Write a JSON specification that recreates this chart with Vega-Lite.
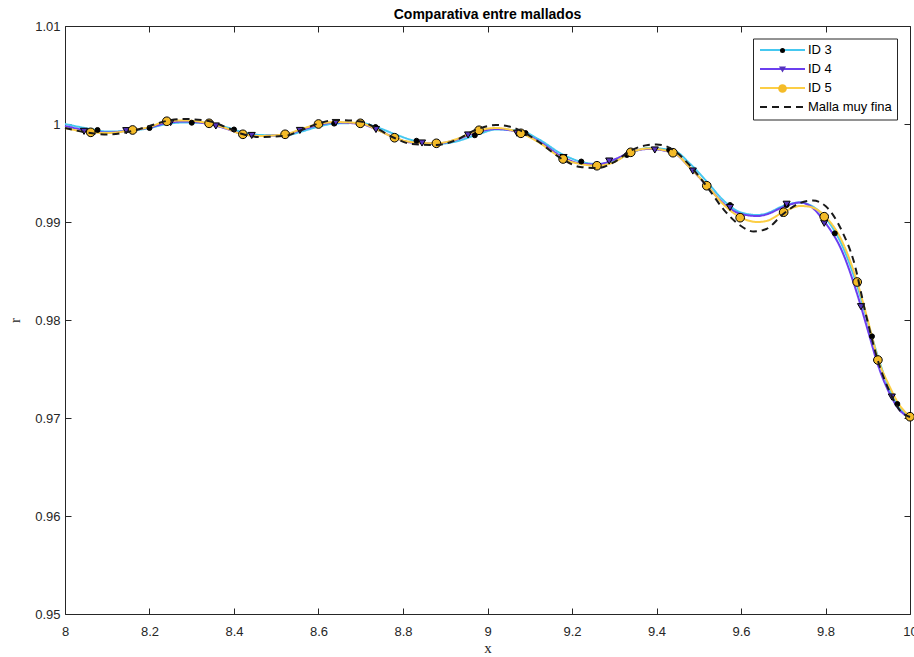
{
  "$schema": "https://vega.github.io/schema/vega-lite/v6.json",
  "width": 845,
  "height": 588,
  "autosize": {"type": "none"},
  "padding": {"left": 65, "top": 26, "right": 4, "bottom": 43},
  "background": "white",
  "title": {"text": "Comparativa entre mallados", "font": "Liberation Sans", "fontSize": 14, "fontWeight": "bold", "color": "#000000", "anchor": "middle", "offset": -2},
  "config": {
    "view": {"stroke": null},
    "axis": {"grid": false, "domainColor": "#262626", "domainWidth": 1, "tickColor": "#262626", "tickWidth": 1, "tickSize": -6, "labelColor": "#262626", "labelFont": "Liberation Sans", "labelFontSize": 13, "labelFlush": false, "labelOverlap": false}
  },
  "datasets": {
    "lines": [
      {"s": "ID 3", "x": 8.00, "y": 1.0},
      {"s": "ID 3", "x": 8.06, "y": 0.99949},
      {"s": "ID 3", "x": 8.10, "y": 0.99923},
      {"s": "ID 3", "x": 8.16, "y": 0.99934},
      {"s": "ID 3", "x": 8.20, "y": 0.99959},
      {"s": "ID 3", "x": 8.24, "y": 1.0},
      {"s": "ID 3", "x": 8.28, "y": 1.00015},
      {"s": "ID 3", "x": 8.34, "y": 1.0001},
      {"s": "ID 3", "x": 8.38, "y": 0.99969},
      {"s": "ID 3", "x": 8.42, "y": 0.99918},
      {"s": "ID 3", "x": 8.46, "y": 0.99888},
      {"s": "ID 3", "x": 8.52, "y": 0.99883},
      {"s": "ID 3", "x": 8.56, "y": 0.99923},
      {"s": "ID 3", "x": 8.60, "y": 0.99974},
      {"s": "ID 3", "x": 8.64, "y": 1.00005},
      {"s": "ID 3", "x": 8.70, "y": 1.0001},
      {"s": "ID 3", "x": 8.74, "y": 0.99964},
      {"s": "ID 3", "x": 8.78, "y": 0.99898},
      {"s": "ID 3", "x": 8.82, "y": 0.99837},
      {"s": "ID 3", "x": 8.88, "y": 0.99796},
      {"s": "ID 3", "x": 8.92, "y": 0.99816},
      {"s": "ID 3", "x": 8.98, "y": 0.99898},
      {"s": "ID 3", "x": 9.02, "y": 0.99944},
      {"s": "ID 3", "x": 9.08, "y": 0.99929},
      {"s": "ID 3", "x": 9.12, "y": 0.99847},
      {"s": "ID 3", "x": 9.18, "y": 0.99684},
      {"s": "ID 3", "x": 9.22, "y": 0.99617},
      {"s": "ID 3", "x": 9.26, "y": 0.99592},
      {"s": "ID 3", "x": 9.30, "y": 0.99622},
      {"s": "ID 3", "x": 9.34, "y": 0.99704},
      {"s": "ID 3", "x": 9.38, "y": 0.99755},
      {"s": "ID 3", "x": 9.44, "y": 0.9973},
      {"s": "ID 3", "x": 9.48, "y": 0.99592},
      {"s": "ID 3", "x": 9.52, "y": 0.99408},
      {"s": "ID 3", "x": 9.56, "y": 0.99214},
      {"s": "ID 3", "x": 9.60, "y": 0.99097},
      {"s": "ID 3", "x": 9.64, "y": 0.99071},
      {"s": "ID 3", "x": 9.66, "y": 0.99087},
      {"s": "ID 3", "x": 9.70, "y": 0.99163},
      {"s": "ID 3", "x": 9.74, "y": 0.99199},
      {"s": "ID 3", "x": 9.76, "y": 0.99179},
      {"s": "ID 3", "x": 9.80, "y": 0.99041},
      {"s": "ID 3", "x": 9.84, "y": 0.98755},
      {"s": "ID 3", "x": 9.875, "y": 0.98347},
      {"s": "ID 3", "x": 9.90, "y": 0.9798},
      {"s": "ID 3", "x": 9.925, "y": 0.97612},
      {"s": "ID 3", "x": 9.95, "y": 0.97306},
      {"s": "ID 3", "x": 9.975, "y": 0.97102},
      {"s": "ID 3", "x": 10.0, "y": 0.9702},

      {"s": "ID 4", "x": 8.00, "y": 0.9998},
      {"s": "ID 4", "x": 8.06, "y": 0.99929},
      {"s": "ID 4", "x": 8.10, "y": 0.99913},
      {"s": "ID 4", "x": 8.16, "y": 0.99939},
      {"s": "ID 4", "x": 8.20, "y": 0.99964},
      {"s": "ID 4", "x": 8.24, "y": 1.0001},
      {"s": "ID 4", "x": 8.28, "y": 1.00026},
      {"s": "ID 4", "x": 8.34, "y": 1.0},
      {"s": "ID 4", "x": 8.38, "y": 0.99954},
      {"s": "ID 4", "x": 8.42, "y": 0.99898},
      {"s": "ID 4", "x": 8.46, "y": 0.99878},
      {"s": "ID 4", "x": 8.52, "y": 0.99893},
      {"s": "ID 4", "x": 8.56, "y": 0.99939},
      {"s": "ID 4", "x": 8.60, "y": 0.9999},
      {"s": "ID 4", "x": 8.64, "y": 1.00015},
      {"s": "ID 4", "x": 8.70, "y": 1.0},
      {"s": "ID 4", "x": 8.74, "y": 0.99939},
      {"s": "ID 4", "x": 8.78, "y": 0.99862},
      {"s": "ID 4", "x": 8.82, "y": 0.99811},
      {"s": "ID 4", "x": 8.88, "y": 0.99801},
      {"s": "ID 4", "x": 8.92, "y": 0.99832},
      {"s": "ID 4", "x": 8.98, "y": 0.99923},
      {"s": "ID 4", "x": 9.02, "y": 0.99949},
      {"s": "ID 4", "x": 9.08, "y": 0.99908},
      {"s": "ID 4", "x": 9.12, "y": 0.99827},
      {"s": "ID 4", "x": 9.18, "y": 0.99658},
      {"s": "ID 4", "x": 9.22, "y": 0.99597},
      {"s": "ID 4", "x": 9.26, "y": 0.99587},
      {"s": "ID 4", "x": 9.30, "y": 0.99638},
      {"s": "ID 4", "x": 9.34, "y": 0.99714},
      {"s": "ID 4", "x": 9.38, "y": 0.99745},
      {"s": "ID 4", "x": 9.44, "y": 0.99704},
      {"s": "ID 4", "x": 9.48, "y": 0.99551},
      {"s": "ID 4", "x": 9.52, "y": 0.99367},
      {"s": "ID 4", "x": 9.56, "y": 0.99184},
      {"s": "ID 4", "x": 9.60, "y": 0.99082},
      {"s": "ID 4", "x": 9.64, "y": 0.99061},
      {"s": "ID 4", "x": 9.66, "y": 0.99077},
      {"s": "ID 4", "x": 9.70, "y": 0.99153},
      {"s": "ID 4", "x": 9.74, "y": 0.99199},
      {"s": "ID 4", "x": 9.76, "y": 0.99173},
      {"s": "ID 4", "x": 9.80, "y": 0.9899},
      {"s": "ID 4", "x": 9.84, "y": 0.98694},
      {"s": "ID 4", "x": 9.875, "y": 0.98265},
      {"s": "ID 4", "x": 9.90, "y": 0.97898},
      {"s": "ID 4", "x": 9.925, "y": 0.9753},
      {"s": "ID 4", "x": 9.95, "y": 0.97265},
      {"s": "ID 4", "x": 9.975, "y": 0.97082},
      {"s": "ID 4", "x": 10.0, "y": 0.9701},

      {"s": "ID 5", "x": 8.00, "y": 0.99959},
      {"s": "ID 5", "x": 8.06, "y": 0.99915},
      {"s": "ID 5", "x": 8.10, "y": 0.99908},
      {"s": "ID 5", "x": 8.16, "y": 0.99939},
      {"s": "ID 5", "x": 8.20, "y": 0.99969},
      {"s": "ID 5", "x": 8.24, "y": 1.00028},
      {"s": "ID 5", "x": 8.28, "y": 1.00036},
      {"s": "ID 5", "x": 8.34, "y": 1.00007},
      {"s": "ID 5", "x": 8.38, "y": 0.99959},
      {"s": "ID 5", "x": 8.42, "y": 0.99895},
      {"s": "ID 5", "x": 8.46, "y": 0.99878},
      {"s": "ID 5", "x": 8.52, "y": 0.99895},
      {"s": "ID 5", "x": 8.56, "y": 0.99949},
      {"s": "ID 5", "x": 8.60, "y": 1.0},
      {"s": "ID 5", "x": 8.64, "y": 1.0002},
      {"s": "ID 5", "x": 8.70, "y": 1.00007},
      {"s": "ID 5", "x": 8.74, "y": 0.99939},
      {"s": "ID 5", "x": 8.78, "y": 0.9986},
      {"s": "ID 5", "x": 8.82, "y": 0.99816},
      {"s": "ID 5", "x": 8.88, "y": 0.99803},
      {"s": "ID 5", "x": 8.92, "y": 0.99837},
      {"s": "ID 5", "x": 8.98, "y": 0.99936},
      {"s": "ID 5", "x": 9.02, "y": 0.99959},
      {"s": "ID 5", "x": 9.08, "y": 0.99905},
      {"s": "ID 5", "x": 9.12, "y": 0.99816},
      {"s": "ID 5", "x": 9.18, "y": 0.99643},
      {"s": "ID 5", "x": 9.22, "y": 0.99592},
      {"s": "ID 5", "x": 9.26, "y": 0.99574},
      {"s": "ID 5", "x": 9.30, "y": 0.99612},
      {"s": "ID 5", "x": 9.34, "y": 0.99711},
      {"s": "ID 5", "x": 9.38, "y": 0.9975},
      {"s": "ID 5", "x": 9.44, "y": 0.99707},
      {"s": "ID 5", "x": 9.48, "y": 0.99551},
      {"s": "ID 5", "x": 9.52, "y": 0.9937},
      {"s": "ID 5", "x": 9.56, "y": 0.99173},
      {"s": "ID 5", "x": 9.60, "y": 0.99044},
      {"s": "ID 5", "x": 9.64, "y": 0.99},
      {"s": "ID 5", "x": 9.66, "y": 0.9901},
      {"s": "ID 5", "x": 9.70, "y": 0.991},
      {"s": "ID 5", "x": 9.74, "y": 0.99163},
      {"s": "ID 5", "x": 9.76, "y": 0.99158},
      {"s": "ID 5", "x": 9.80, "y": 0.99054},
      {"s": "ID 5", "x": 9.84, "y": 0.98796},
      {"s": "ID 5", "x": 9.875, "y": 0.98388},
      {"s": "ID 5", "x": 9.90, "y": 0.98},
      {"s": "ID 5", "x": 9.925, "y": 0.97592},
      {"s": "ID 5", "x": 9.95, "y": 0.97337},
      {"s": "ID 5", "x": 9.975, "y": 0.97133},
      {"s": "ID 5", "x": 10.0, "y": 0.97013},

      {"s": "Malla muy fina", "x": 8.00, "y": 0.99959},
      {"s": "Malla muy fina", "x": 8.06, "y": 0.99908},
      {"s": "Malla muy fina", "x": 8.10, "y": 0.99893},
      {"s": "Malla muy fina", "x": 8.16, "y": 0.99929},
      {"s": "Malla muy fina", "x": 8.20, "y": 0.9998},
      {"s": "Malla muy fina", "x": 8.24, "y": 1.00031},
      {"s": "Malla muy fina", "x": 8.28, "y": 1.00051},
      {"s": "Malla muy fina", "x": 8.34, "y": 1.00031},
      {"s": "Malla muy fina", "x": 8.38, "y": 0.99969},
      {"s": "Malla muy fina", "x": 8.42, "y": 0.99898},
      {"s": "Malla muy fina", "x": 8.46, "y": 0.99867},
      {"s": "Malla muy fina", "x": 8.52, "y": 0.99878},
      {"s": "Malla muy fina", "x": 8.56, "y": 0.99939},
      {"s": "Malla muy fina", "x": 8.60, "y": 1.00005},
      {"s": "Malla muy fina", "x": 8.64, "y": 1.00041},
      {"s": "Malla muy fina", "x": 8.70, "y": 1.00026},
      {"s": "Malla muy fina", "x": 8.74, "y": 0.99949},
      {"s": "Malla muy fina", "x": 8.78, "y": 0.99857},
      {"s": "Malla muy fina", "x": 8.82, "y": 0.99796},
      {"s": "Malla muy fina", "x": 8.88, "y": 0.99786},
      {"s": "Malla muy fina", "x": 8.92, "y": 0.99827},
      {"s": "Malla muy fina", "x": 8.98, "y": 0.99954},
      {"s": "Malla muy fina", "x": 9.02, "y": 0.9999},
      {"s": "Malla muy fina", "x": 9.08, "y": 0.99929},
      {"s": "Malla muy fina", "x": 9.12, "y": 0.99821},
      {"s": "Malla muy fina", "x": 9.18, "y": 0.99633},
      {"s": "Malla muy fina", "x": 9.22, "y": 0.99561},
      {"s": "Malla muy fina", "x": 9.26, "y": 0.99551},
      {"s": "Malla muy fina", "x": 9.30, "y": 0.99612},
      {"s": "Malla muy fina", "x": 9.34, "y": 0.9973},
      {"s": "Malla muy fina", "x": 9.38, "y": 0.99786},
      {"s": "Malla muy fina", "x": 9.40, "y": 0.99791},
      {"s": "Malla muy fina", "x": 9.44, "y": 0.99735},
      {"s": "Malla muy fina", "x": 9.48, "y": 0.99571},
      {"s": "Malla muy fina", "x": 9.52, "y": 0.99357},
      {"s": "Malla muy fina", "x": 9.56, "y": 0.99122},
      {"s": "Malla muy fina", "x": 9.60, "y": 0.98959},
      {"s": "Malla muy fina", "x": 9.63, "y": 0.98903},
      {"s": "Malla muy fina", "x": 9.66, "y": 0.98929},
      {"s": "Malla muy fina", "x": 9.70, "y": 0.99082},
      {"s": "Malla muy fina", "x": 9.74, "y": 0.99194},
      {"s": "Malla muy fina", "x": 9.77, "y": 0.99219},
      {"s": "Malla muy fina", "x": 9.80, "y": 0.99163},
      {"s": "Malla muy fina", "x": 9.84, "y": 0.98898},
      {"s": "Malla muy fina", "x": 9.866, "y": 0.98612},
      {"s": "Malla muy fina", "x": 9.897, "y": 0.98031},
      {"s": "Malla muy fina", "x": 9.925, "y": 0.97571},
      {"s": "Malla muy fina", "x": 9.95, "y": 0.97286},
      {"s": "Malla muy fina", "x": 9.975, "y": 0.97082},
      {"s": "Malla muy fina", "x": 10.0, "y": 0.9701}
    ],
    "markers": [
      {"m": "ID 3", "x": 8.077, "y": 0.99939},
      {"m": "ID 3", "x": 8.2, "y": 0.99959},
      {"m": "ID 3", "x": 8.3, "y": 1.00013},
      {"m": "ID 3", "x": 8.4, "y": 0.99944},
      {"m": "ID 3", "x": 8.52, "y": 0.99883},
      {"m": "ID 3", "x": 8.637, "y": 1.00004},
      {"m": "ID 3", "x": 8.735, "y": 0.99969},
      {"m": "ID 3", "x": 8.832, "y": 0.99829},
      {"m": "ID 3", "x": 8.97, "y": 0.99885},
      {"m": "ID 3", "x": 9.09, "y": 0.99908},
      {"m": "ID 3", "x": 9.222, "y": 0.99617},
      {"m": "ID 3", "x": 9.33, "y": 0.99684},
      {"m": "ID 3", "x": 9.43, "y": 0.99735},
      {"m": "ID 3", "x": 9.574, "y": 0.99173},
      {"m": "ID 3", "x": 9.708, "y": 0.99173},
      {"m": "ID 3", "x": 9.822, "y": 0.98884},
      {"m": "ID 3", "x": 9.91, "y": 0.97833},
      {"m": "ID 3", "x": 9.97, "y": 0.97143},

      {"m": "ID 4", "x": 8.045, "y": 0.99925},
      {"m": "ID 4", "x": 8.145, "y": 0.99932},
      {"m": "ID 4", "x": 8.25, "y": 1.00015},
      {"m": "ID 4", "x": 8.357, "y": 0.9998},
      {"m": "ID 4", "x": 8.442, "y": 0.99883},
      {"m": "ID 4", "x": 8.556, "y": 0.99934},
      {"m": "ID 4", "x": 8.641, "y": 1.00015},
      {"m": "ID 4", "x": 8.736, "y": 0.99944},
      {"m": "ID 4", "x": 8.845, "y": 0.99806},
      {"m": "ID 4", "x": 8.954, "y": 0.99888},
      {"m": "ID 4", "x": 9.07, "y": 0.99905},
      {"m": "ID 4", "x": 9.18, "y": 0.99658},
      {"m": "ID 4", "x": 9.288, "y": 0.99622},
      {"m": "ID 4", "x": 9.396, "y": 0.99735},
      {"m": "ID 4", "x": 9.486, "y": 0.9952},
      {"m": "ID 4", "x": 9.574, "y": 0.99148},
      {"m": "ID 4", "x": 9.708, "y": 0.99181},
      {"m": "ID 4", "x": 9.797, "y": 0.98987},
      {"m": "ID 4", "x": 9.884, "y": 0.98136},
      {"m": "ID 4", "x": 9.957, "y": 0.97214},

      {"m": "ID 5", "x": 8.061, "y": 0.99915},
      {"m": "ID 5", "x": 8.160, "y": 0.99939},
      {"m": "ID 5", "x": 8.241, "y": 1.00028},
      {"m": "ID 5", "x": 8.341, "y": 1.00007},
      {"m": "ID 5", "x": 8.421, "y": 0.99895},
      {"m": "ID 5", "x": 8.521, "y": 0.99895},
      {"m": "ID 5", "x": 8.600, "y": 1.0},
      {"m": "ID 5", "x": 8.699, "y": 1.00007},
      {"m": "ID 5", "x": 8.780, "y": 0.9986},
      {"m": "ID 5", "x": 8.879, "y": 0.99803},
      {"m": "ID 5", "x": 8.980, "y": 0.99936},
      {"m": "ID 5", "x": 9.079, "y": 0.99905},
      {"m": "ID 5", "x": 9.179, "y": 0.99643},
      {"m": "ID 5", "x": 9.259, "y": 0.99574},
      {"m": "ID 5", "x": 9.339, "y": 0.99711},
      {"m": "ID 5", "x": 9.439, "y": 0.99707},
      {"m": "ID 5", "x": 9.519, "y": 0.9937},
      {"m": "ID 5", "x": 9.598, "y": 0.99044},
      {"m": "ID 5", "x": 9.701, "y": 0.991},
      {"m": "ID 5", "x": 9.797, "y": 0.99054},
      {"m": "ID 5", "x": 9.875, "y": 0.98388},
      {"m": "ID 5", "x": 9.924, "y": 0.97592},
      {"m": "ID 5", "x": 10.0, "y": 0.97013}
    ]
  },
  "layer": [
    {
      "data": {"name": "lines"},
      "transform": [{"filter": "datum.s !== 'Malla muy fina'"}],
      "mark": {"type": "line", "interpolate": "monotone", "strokeWidth": 2},
      "encoding": {
        "x": {
          "field": "x", "type": "quantitative",
          "scale": {"domain": [8, 10], "nice": false, "zero": false},
          "axis": {"orient": "bottom", "values": [8, 8.2, 8.4, 8.6, 8.8, 9, 9.2, 9.4, 9.6, 9.8, 10], "format": "~g", "labelPadding": 17, "title": "x", "titleFont": "Liberation Serif", "titleFontSize": 15, "titleFontWeight": "normal", "titleColor": "#262626", "titlePadding": 2}
        },
        "y": {
          "field": "y", "type": "quantitative",
          "scale": {"domain": [0.95, 1.01], "nice": false, "zero": false},
          "axis": {"orient": "left", "values": [0.95, 0.96, 0.97, 0.98, 0.99, 1, 1.01], "format": "~g", "labelPadding": 11, "title": "r", "titleFont": "Liberation Serif", "titleFontSize": 15, "titleFontWeight": "normal", "titleColor": "#262626", "titlePadding": 12}
        },
        "stroke": {
          "field": "s", "type": "nominal",
          "scale": {"domain": ["ID 3", "ID 4", "ID 5", "Malla muy fina"], "range": ["#45C8F0", "#6B3FEF", "#FCCE45", "#1a1a1a"]},
          "legend": {"title": null, "orient": "none", "legendX": 688, "legendY": 12.5, "symbolType": "M-5,0L5,0", "symbolSize": 81, "symbolStrokeWidth": 2, "symbolOffset": 18, "labelOffset": 19, "padding": 5, "rowPadding": 5, "strokeColor": "#262626", "fillColor": null, "labelFont": "Liberation Sans", "labelFontSize": 13, "labelColor": "#000000"}
        },
        "strokeDash": {
          "field": "s", "type": "nominal",
          "scale": {"domain": ["ID 3", "ID 4", "ID 5", "Malla muy fina"], "range": [[1, 0], [1, 0], [1, 0], [7, 5]]},
          "legend": {"title": null, "orient": "none", "legendX": 688, "legendY": 12.5, "symbolType": "M-5,0L5,0", "symbolSize": 81, "symbolStrokeWidth": 2, "symbolOffset": 18, "labelOffset": 19, "padding": 5, "rowPadding": 5, "strokeColor": "#262626", "fillColor": null, "labelFont": "Liberation Sans", "labelFontSize": 13, "labelColor": "#000000"}
        }
      }
    },
    {
      "data": {"name": "markers"},
      "mark": {"type": "point", "filled": true, "stroke": "#000000", "strokeWidth": 1, "opacity": 1},
      "encoding": {
        "x": {
          "field": "x", "type": "quantitative",
          "axis": {"orient": "top", "values": [8, 8.2, 8.4, 8.6, 8.8, 9, 9.2, 9.4, 9.6, 9.8, 10], "labels": false, "title": null}
        },
        "y": {
          "field": "y", "type": "quantitative",
          "axis": {"orient": "right", "values": [0.95, 0.96, 0.97, 0.98, 0.99, 1, 1.01], "labels": false, "title": null}
        },
        "fill": {
          "field": "m", "type": "nominal",
          "scale": {"domain": ["ID 3", "ID 4", "ID 5"], "range": ["#000000", "#5533BB", "#F4BB28"]},
          "legend": {"title": null, "orient": "none", "legendX": 706, "legendY": 12.5, "padding": 5, "rowPadding": 5, "clipHeight": 14, "symbolStrokeColor": "#000000", "symbolStrokeWidth": 1, "labelExpr": "''", "labelFontSize": 13}
        },
        "shape": {
          "field": "m", "type": "nominal",
          "scale": {"domain": ["ID 3", "ID 4", "ID 5"], "range": ["circle", "triangle-down", "circle"]},
          "legend": {"title": null, "orient": "none", "legendX": 706, "legendY": 12.5, "padding": 5, "rowPadding": 5, "clipHeight": 14, "symbolStrokeColor": "#000000", "symbolStrokeWidth": 1, "labelExpr": "''", "labelFontSize": 13}
        },
        "size": {
          "field": "m", "type": "nominal",
          "scale": {"domain": ["ID 3", "ID 4", "ID 5"], "range": [25, 75, 81]},
          "legend": {"title": null, "orient": "none", "legendX": 706, "legendY": 12.5, "padding": 5, "rowPadding": 5, "clipHeight": 14, "symbolStrokeColor": "#000000", "symbolStrokeWidth": 1, "labelExpr": "''", "labelFontSize": 13}
        }
      }
    },
    {
      "data": {"name": "lines"},
      "transform": [{"filter": "datum.s === 'Malla muy fina'"}],
      "mark": {"type": "line", "interpolate": "monotone", "strokeWidth": 2},
      "encoding": {
        "x": {"field": "x", "type": "quantitative", "axis": null},
        "y": {"field": "y", "type": "quantitative", "axis": null},
        "stroke": {"field": "s", "type": "nominal"},
        "strokeDash": {"field": "s", "type": "nominal"}
      }
    }
  ],
  "resolve": {"axis": {"x": "independent", "y": "independent"}}
}
